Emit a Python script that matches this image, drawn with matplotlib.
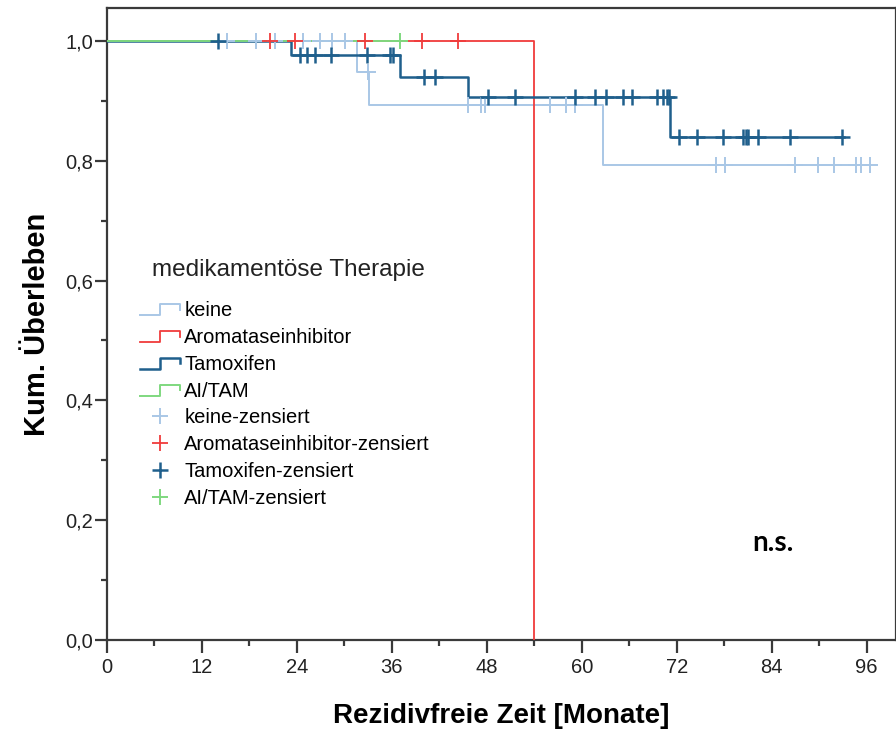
import matplotlib
matplotlib.use("Agg")
import numpy as np
import matplotlib.pyplot as plt
from matplotlib.lines import Line2D
from matplotlib.legend_handler import HandlerBase
from matplotlib.ticker import MultipleLocator, FuncFormatter

# ─── Data ────────────────────────────────────────────────────────────────────
GROUPS = ["keine", "Aromataseinhibitor", "Tamoxifen", "AI/TAM"]

# step start times [months] and survival level after each step
keine_steps = [0, 31.6, 33.1, 62.7]
keine_surv = [1.0, 0.948, 0.893, 0.793]
keine_end = 96.6
keine_cens = [15.2, 18.8, 21.2, 24.8, 26.9, 28.4, 30.1, 33.0, 45.6, 47.3,
              47.8, 56.0, 58.0, 59.2, 76.9, 78.1, 87.0, 89.9, 91.9, 94.6,
              95.3, 96.4]

ai_steps = [0, 53.9]
ai_surv = [1.0, 0.0]
ai_end = 53.9
ai_cens = [20.6, 23.8, 32.6, 39.8, 44.4]

tam_steps = [0, 23.2, 37.0, 45.6, 71.1]
tam_surv = [1.0, 0.977, 0.940, 0.906, 0.840]
tam_end = 93.1
tam_cens = [14.0, 24.4, 25.3, 26.3, 28.3, 32.9, 35.8, 36.2, 40.0, 41.5,
            48.2, 51.6, 59.2, 61.7, 63.0, 65.2, 66.4, 69.5, 70.2, 70.8,
            71.0, 72.3, 74.6, 77.9, 80.4, 80.7, 81.0, 82.2, 86.3, 92.9]

aitam_steps = [0]
aitam_surv = [1.0]
aitam_end = 37.0
aitam_cens = [37.0]

COLOURS = {
    "keine": "#a9c7e6",
    "Aromataseinhibitor": "#f03c3c",
    "Tamoxifen": "#1f5f8c",
    "AI/TAM": "#7fd87f",
}

NARROW = ["Liberation Sans Narrow", "Liberation Sans", "DejaVu Sans"]
plt.rcParams["font.family"] = ["Liberation Sans", "DejaVu Sans"]


def surv_at(t, steps, surv):
    idx = np.searchsorted(steps, t, side="right") - 1
    return np.asarray(surv)[idx]


class StepHandler(HandlerBase):
    """Small step glyph like the SPSS legend."""
    def create_artists(self, legend, orig_handle, xdescent, ydescent,
                       width, height, fontsize, trans):
        x0 = -xdescent
        y0 = -ydescent + height * 0.05
        y1 = -ydescent + height * 0.85
        xm = x0 + 0.5 * width
        xs = [x0, xm, xm, x0 + width, x0 + width]
        ys = [y0, y0, y1, y1, y1 - 0.4 * height]
        ln = Line2D(xs, ys, color=orig_handle.get_color(),
                    lw=orig_handle.get_linewidth(), transform=trans)
        return [ln]


fig = plt.figure(figsize=(8.96, 7.31), dpi=100)
ax = fig.add_axes([107 / 896, 91 / 731, 789 / 896, 632 / 731])

series = [
    ("keine", keine_steps, keine_surv, keine_end, keine_cens, 1.4),
    ("Aromataseinhibitor", ai_steps, ai_surv, ai_end, ai_cens, 1.3),
    ("Tamoxifen", tam_steps, tam_surv, tam_end, tam_cens, 1.8),
    ("AI/TAM", aitam_steps, aitam_surv, aitam_end, aitam_cens, 1.4),
]

line_handles = []
for name, steps, surv, end, cens, lw in series:
    xs = list(steps) + [end]
    ys = list(surv) + [surv[-1]]
    (ln,) = ax.step(xs, ys, where="post", color=COLOURS[name], lw=lw, zorder=3)
    line_handles.append(ln)

cens_handles = []
for name, steps, surv, end, cens, lw in series:
    cy = surv_at(np.array(cens), steps, surv)
    (mk,) = ax.plot(cens, cy, ls="none", marker="+", ms=11, mew=lw,
                    color=COLOURS[name], zorder=4)
    cens_handles.append(mk)

ax.set_xlim(0, 99.7)
ax.set_ylim(0, 1.055)
ax.xaxis.set_major_locator(MultipleLocator(12))
ax.xaxis.set_minor_locator(MultipleLocator(6))
ax.yaxis.set_major_locator(MultipleLocator(0.2))
ax.yaxis.set_minor_locator(MultipleLocator(0.1))
ax.yaxis.set_major_formatter(FuncFormatter(lambda v, p: f"{v:.1f}".replace(".", ",")))
ax.tick_params(which="major", length=9, width=1.6, color="#3a3a3a",
               labelsize=14.5)
ax.tick_params(axis="x", which="major", pad=4)
ax.tick_params(axis="y", which="major", pad=1)
ax.tick_params(which="minor", length=4.5, width=1.6, color="#3a3a3a")
for lab in ax.get_xticklabels() + ax.get_yticklabels():
    lab.set_family(NARROW)
    lab.set_color("#222222")
for sp in ax.spines.values():
    sp.set_linewidth(1.6)
    sp.set_color("#3a3a3a")

ax.set_xlabel("Rezidivfreie Zeit [Monate]", fontsize=20, fontweight="bold",
              labelpad=19)
ax.set_ylabel("Kum. Überleben", fontsize=21, fontweight="bold", labelpad=10)

ax.text(0.844, 0.1535, "n.s.", transform=ax.transAxes, fontsize=20,
        fontweight="bold", family=["Lato", "DejaVu Sans"], ha="center", va="center")

# legend: title as separate text, entries below
fig.text(152 / 896, 1 - 270 / 731, "medikamentöse Therapie", fontsize=17.5,
         color="#222222", ha="left", va="center")
labels = GROUPS + [g + "-zensiert" for g in GROUPS]
handler_map = {h: StepHandler() for h in line_handles}
leg = ax.legend(line_handles + cens_handles, labels, handler_map=handler_map,
                loc="upper left", bbox_to_anchor=(140 / 896, 1 - 301 / 731),
                bbox_transform=fig.transFigure, frameon=False,
                fontsize=14.5, handlelength=2.0, handletextpad=0.2,
                labelspacing=0.39, borderpad=0, borderaxespad=0)

fig.savefig("out.png", dpi=100)
